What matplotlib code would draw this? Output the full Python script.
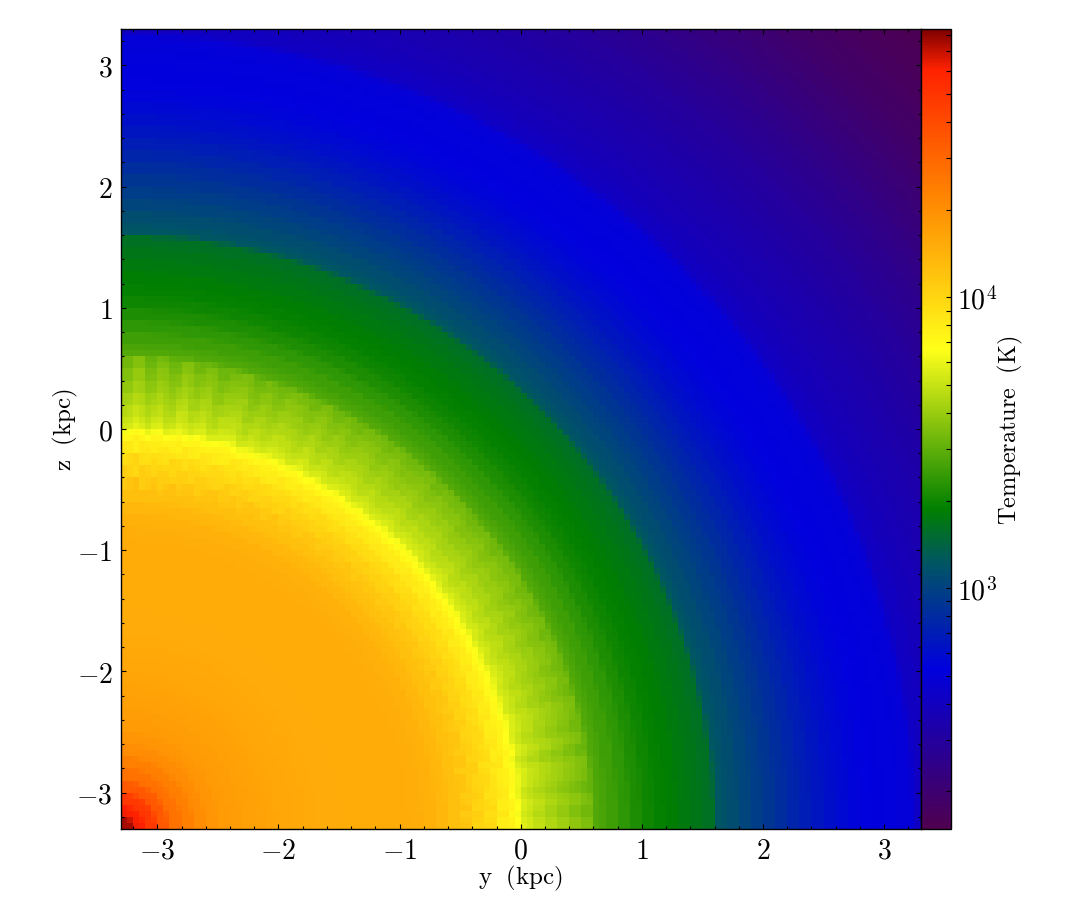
import numpy as np
import matplotlib
matplotlib.use('Agg')
import matplotlib.pyplot as plt
from matplotlib.colors import LinearSegmentedColormap, LogNorm
from matplotlib.ticker import MultipleLocator

plt.rcParams['mathtext.fontset'] = 'cm'
plt.rcParams['font.family'] = ['cmr10', 'DejaVu Serif']
plt.rcParams['axes.formatter.use_mathtext'] = True
plt.rcParams['axes.unicode_minus'] = False

# temperature profile: outer radius of each shell (kpc, from the corner) and its T (K)
shell_r = [0.11, 0.2, 0.3, 0.4, 0.5, 0.6, 0.7, 0.8, 0.9, 1.0,
           1.1, 1.2, 1.3, 1.4, 1.5, 1.6, 1.7, 1.8, 1.9, 2.0,
           2.1, 2.2, 2.3, 2.4, 2.5, 2.6, 2.7, 2.8, 2.9, 3.0,
           3.1, 3.2, 3.25, 3.3, 3.35, 3.4, 3.5, 3.6, 3.7, 3.8,
           3.9, 3.95, 4.0, 4.1, 4.2, 4.3, 4.4, 4.5, 4.6, 4.7,
           4.8, 4.9, 4.95, 5.0, 5.1, 5.2, 5.3, 5.4, 5.5, 5.6,
           5.7, 5.8, 5.9, 6.0, 6.1, 6.2, 6.3, 6.4, 6.5, 6.55,
           6.6, 6.7, 6.8, 6.9, 7.0, 7.1, 7.2, 7.3, 7.4, 7.5,
           7.6, 7.7, 7.8, 7.9, 8.0, 8.1, 8.2, 8.3, 8.4, 8.5,
           8.6, 8.7, 8.8, 8.9, 9.0, 9.1, 9.2, 9.4]
shell_T = [75000, 61000, 48000, 35000, 27000, 23400, 20700, 19000, 18000, 17500,
           17000, 16600, 16200, 15900, 15700, 15500, 15300, 15200, 15100, 15000,
           15000, 15000, 15000, 15000, 14800, 14400, 13500, 12600, 11500, 10500,
           9300, 8200, 7300, 6500, 5400, 5100, 4700, 4300, 3950, 3650,
           3350, 2800, 2700, 2550, 2350, 2150, 2000, 1900, 1830, 1760,
           1680, 1600, 1230, 1190, 1120, 1040, 960, 890, 820, 760,
           700, 650, 605, 575, 550, 532, 520, 515, 505, 490,
           420, 400, 385, 370, 355, 345, 335, 325, 315, 305,
           295, 283, 272, 261, 250, 240, 230, 220, 210, 201,
           194, 187, 181, 175, 170, 166, 162, 158]

# faint rays around the shock, by 1.5 degree sector from the y axis (dex)
spoke_dex = [0.02, -0.01, 0.02, -0.02, 0.01, 0.02, -0.02, 0.02, -0.01, 0.01,
             0.02, -0.01, 0.01, -0.01, 0.01, 0.01, -0.01, 0.01, -0.01, 0.01,
             -0.01, 0.01, 0.00, 0.01, -0.01, 0.01, 0.00, -0.01, 0.01, 0.00,
             0.01, -0.01, 0.01, 0.00, -0.01, 0.01, -0.01, 0.01, 0.01, -0.01,
             0.01, -0.01, 0.02, -0.01, 0.01, 0.02, -0.01, 0.01, -0.02, 0.02,
             0.01, -0.02, 0.02, -0.01, 0.03, -0.02, 0.02, -0.02, 0.03, -0.01]

extent_kpc = 3.3
n_cells = 132
n_sub = 4
t_min = 148.6
t_max = 83600.0

x_ticks = [-3, -2, -1, 0, 1, 2, 3]
tick_labels = ['$-3$', '$-2$', '$-1$', '$0$', '$1$', '$2$', '$3$']

cmap_colors = [(0.0, (0.31, 0.0, 0.31)),
               (0.2, (0.0, 0.0, 0.87)),
               (0.33, (0.0, 0.33, 0.4)),
               (0.4, (0.0, 0.5, 0.0)),
               (0.6, (1.0, 1.0, 0.1)),
               (0.8, (1.0, 0.5, 0.0)),
               (0.95, (1.0, 0.13, 0.0)),
               (1.0, (0.5, 0.0, 0.0))]
cmap = LinearSegmentedColormap.from_list('temp', cmap_colors, N=512)

# each cell averages the shells its subsamples fall into
edges = np.linspace(-extent_kpc, extent_kpc, n_cells + 1)
fine = np.linspace(-extent_kpc, extent_kpc, n_cells * n_sub + 1)
fine = 0.5 * (fine[:-1] + fine[1:])
yy, zz = np.meshgrid(fine, fine)
dy = yy + extent_kpc
dz = zz + extent_kpc
rr = np.hypot(dy, dz)
idx = np.clip(np.searchsorted(shell_r, rr), 0, len(shell_T) - 1)
log_t = np.log10(np.array(shell_T, dtype=float))[idx]

# rays run straight outside the shock and turn into a checker pattern inside it
sector = np.clip((np.degrees(np.arctan2(dz, dy)) / 1.5).astype(int), 0, len(spoke_dex) - 1)
flip = np.where((rr * 10).astype(int) % 2 == 0, 1.0, -1.0)
outside = (rr > 3.3) & (rr < 3.9)
inside = (rr > 2.8) & (rr <= 3.3)
log_t = log_t + np.array(spoke_dex)[sector] * (outside + inside * flip)

log_t = log_t.reshape(n_cells, n_sub, n_cells, n_sub).mean(axis=(1, 3))
temp = 10 ** log_t

W, H = 1085.0, 920.0
fig = plt.figure(figsize=(W / 100, H / 100), dpi=100)
ax = fig.add_axes([121 / W, (H - 830) / H, 799.5 / W, 800 / H])
cax = fig.add_axes([920.5 / W, (H - 830) / H, 30 / W, 800 / H])

norm = LogNorm(vmin=t_min, vmax=t_max)
mesh = ax.pcolormesh(edges, edges, temp, cmap=cmap, norm=norm, rasterized=True)
ax.set_xlim(-extent_kpc, extent_kpc)
ax.set_ylim(-extent_kpc, extent_kpc)

ax.set_xticks(x_ticks)
ax.set_yticks(x_ticks)
ax.set_xticklabels(tick_labels)
ax.set_yticklabels(tick_labels)
ax.xaxis.set_minor_locator(MultipleLocator(0.2))
ax.yaxis.set_minor_locator(MultipleLocator(0.2))
ax.tick_params(which='both', direction='in', top=True, right=True, width=0.8, labelsize=20, pad=6)
ax.tick_params(which='major', length=3.6)
ax.tick_params(which='minor', length=2.2)
ax.set_xlabel(r'$\mathrm{y\ \ (kpc)}$', fontsize=18, labelpad=-0.5)
ax.set_ylabel(r'$\mathrm{z\ \ (kpc)}$', fontsize=18, labelpad=-2.5)

cbar = fig.colorbar(mesh, cax=cax)
cbar.ax.tick_params(which='both', direction='in', right=True, left=False, width=0.8)
cbar.ax.tick_params(which='major', length=3.4, labelsize=20, pad=5)
cbar.ax.tick_params(which='minor', length=3.4)
cbar.set_label(r'$\mathrm{Temperature\ \ (K)}$', fontsize=17.5, labelpad=-1)

for a in (ax, cax):
    for s in a.spines.values():
        s.set_linewidth(1.0)
cbar.outline.set_linewidth(1.0)

fig.savefig('out.png', dpi=100)
